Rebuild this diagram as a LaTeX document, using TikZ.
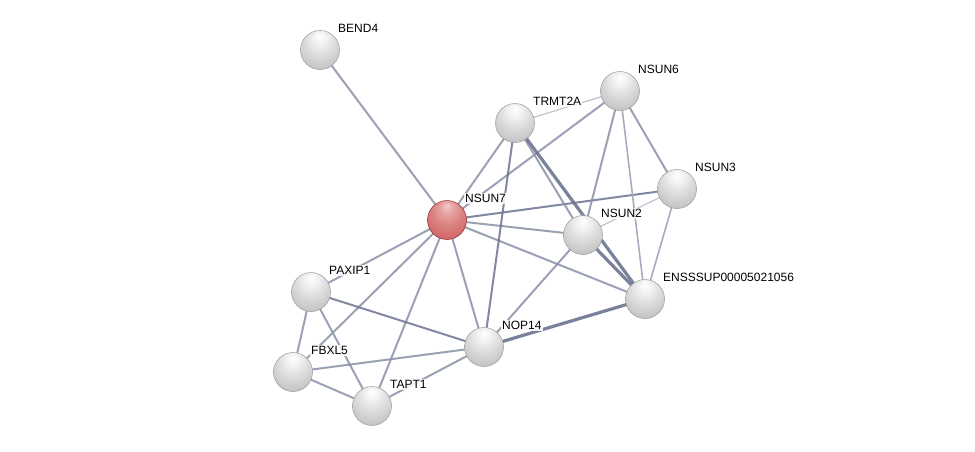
\documentclass[tikz,border=0pt]{standalone}
\usepackage{fontspec}
\setmainfont{Liberation Sans}
\usetikzlibrary{backgrounds,positioning,calc}

\definecolor{edgecol}{HTML}{8A90A8}
\definecolor{edgedark}{HTML}{6C7390}
\definecolor{redhl}{HTML}{F4CACA}
\definecolor{redbody}{HTML}{D46A6A}
\definecolor{redrim}{HTML}{8E2E2E}

\pgfdeclareradialshading{greysphere}{\pgfpoint{0bp}{18bp}}{%
  color(0bp)=(white); color(8bp)=(white!95!black); color(20bp)=(white!86!black);
  color(32bp)=(white!78!black); color(44bp)=(white!70!black); color(54bp)=(white!55!black); color(62bp)=(white!44!black); color(72bp)=(white!50!black)}
\pgfdeclareradialshading{redsphere}{\pgfpoint{0bp}{18bp}}{%
  color(0bp)=(redhl); color(8bp)=(redhl!60!redbody); color(20bp)=(redbody!85!white);
  color(32bp)=(redbody); color(44bp)=(redbody!92!black); color(54bp)=(redbody!55!redrim); color(62bp)=(redrim); color(72bp)=(redrim!90!white)}

\tikzset{
  prot/.style={circle,minimum size=39pt,inner sep=0pt,shading=greysphere,draw=gray!80,line width=0.5pt},
  query/.style={circle,minimum size=39pt,inner sep=0pt,shading=redsphere,draw=redrim,line width=0.5pt},
  lbl/.style={anchor=base west,inner sep=1pt,fill=white,fill opacity=0.85,text opacity=1,font=\fontsize{12}{14}\selectfont},
  lnk/.style={line width=2pt,draw=edgecol,draw opacity=0.85},
  lnkthin/.style={line width=1.2pt,draw=edgecol!55},
  lnkthick/.style={line width=3.2pt,draw=edgedark,draw opacity=0.9}
}

\begin{document}
\begin{tikzpicture}[x=1pt,y=-1pt]
      \useasboundingbox (0,0) rectangle (975,451);

      \node[prot] (bend4) at (320,50) {};
      \node[query] (nsun7) at (447,220) {};
      \node[prot] (trmt2a) at (515,123) {};
      \node[prot] (nsun6) at (620,91) {};
      \node[prot] (nsun3) at (677,189) {};
      \node[prot] (nsun2) at (583,235) {};
      \node[prot] (ensssup) at (645,299) {};
      \node[prot] (paxip1) at (311,292) {};
      \node[prot] (nop14) at (484,347) {};
      \node[prot] (fbxl5) at (293,372) {};
      \node[prot] (tapt1) at (372,406) {};

      \node[lbl] (lbend4) at ([shift={(17pt,17.5pt)}]bend4.center) {BEND4};
      \node[lbl] (lnsun7) at ([shift={(17pt,17.5pt)}]nsun7.center) {NSUN7};
      \node[lbl] (ltrmt2a) at ([shift={(17pt,17.5pt)}]trmt2a.center) {TRMT2A};
      \node[lbl] (lnsun6) at ([shift={(17pt,17.5pt)}]nsun6.center) {NSUN6};
      \node[lbl] (lnsun3) at ([shift={(17pt,17.5pt)}]nsun3.center) {NSUN3};
      \node[lbl] (lnsun2) at ([shift={(17pt,17.5pt)}]nsun2.center) {NSUN2};
      \node[lbl] (lensssup) at ([shift={(17pt,17.5pt)}]ensssup.center) {ENSSSUP00005021056};
      \node[lbl] (lpaxip1) at ([shift={(17pt,17.5pt)}]paxip1.center) {PAXIP1};
      \node[lbl] (lnop14) at ([shift={(17pt,17.5pt)}]nop14.center) {NOP14};
      \node[lbl] (lfbxl5) at ([shift={(17pt,17.5pt)}]fbxl5.center) {FBXL5};
      \node[lbl] (ltapt1) at ([shift={(17pt,17.5pt)}]tapt1.center) {TAPT1};

      \begin{scope}[on background layer]
      % links of NSUN7
      \draw[lnk] (bend4.center)--(nsun7.center);
      \draw[lnk] (nsun7.center)--(trmt2a.center);
      \draw[lnk] (nsun7.center)--(nsun6.center);
      \draw[lnk,draw=edgedark] (nsun7.center)--(nsun3.center);
      \draw[lnk] (nsun7.center)--(nsun2.center);
      \draw[lnk] (nsun7.center)--(ensssup.center);
      \draw[lnk] (nsun7.center)--(paxip1.center);
      \draw[lnk] (nsun7.center)--(fbxl5.center);
      \draw[lnk] (nsun7.center)--(tapt1.center);
      \draw[lnk] (nsun7.center)--(nop14.center);

      % methyltransferase cluster
      \draw[lnkthin] (trmt2a.center)--(nsun6.center);
      \draw[lnk,draw=edgedark] (trmt2a.center)--(nop14.center);
      \draw[lnk] (trmt2a.center)--(nsun2.center);
      \draw[lnkthick] (trmt2a.center)--(ensssup.center);
      \draw[lnk] (nsun6.center)--(nsun2.center);
      \draw[lnkthin,line width=1.6pt,draw=edgecol!75] (nsun6.center)--(ensssup.center);
      \draw[lnk] (nsun6.center)--(nsun3.center);
      \draw[lnkthin] (nsun3.center)--(nsun2.center);
      \draw[lnkthin,line width=1.6pt,draw=edgecol!75] (nsun3.center)--(ensssup.center);
      \draw[lnkthick] (nsun2.center)--(ensssup.center);
      \draw[lnk] (nsun2.center)--(nop14.center);
      \draw[lnkthick] (nop14.center)--(ensssup.center);

      % lower group
      \draw[lnk,draw=edgedark] (paxip1.center)--(nop14.center);
      \draw[lnk] (paxip1.center)--(fbxl5.center);
      \draw[lnk] (paxip1.center)--(tapt1.center);
      \draw[lnk] (fbxl5.center)--(nop14.center);
      \draw[lnk] (fbxl5.center)--(tapt1.center);
      \draw[lnk] (tapt1.center)--(nop14.center);
      \end{scope}
    \end{tikzpicture}
\end{document}
